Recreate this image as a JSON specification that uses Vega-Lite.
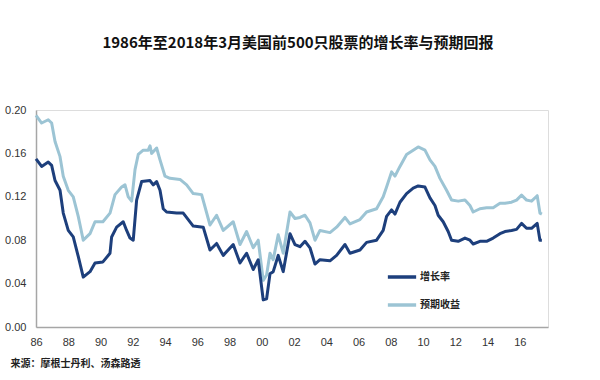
{
  "$schema": "https://vega.github.io/schema/vega-lite/v6.json",
  "width": 512,
  "height": 217,
  "autosize": {"type": "none"},
  "padding": {"left": 36, "top": 110, "right": 52, "bottom": 53},
  "background": "white",
  "title": {
    "text": "1986年至2018年3月美国前500只股票的增长率与预期回报",
    "font": "Noto Sans CJK SC",
    "fontSize": 15,
    "fontWeight": "bold",
    "color": "#111111",
    "anchor": "middle",
    "dx": 6,
    "offset": 53
  },
  "datasets": {
    "g": [
      [1986.0, 0.155], [1986.35, 0.148], [1986.76, 0.152], [1986.97, 0.149], [1987.18, 0.135], [1987.49, 0.126], [1987.69, 0.105], [1988.0, 0.089], [1988.31, 0.083], [1988.62, 0.065], [1988.93, 0.046], [1989.35, 0.051], [1989.66, 0.059], [1990.15, 0.060], [1990.59, 0.068], [1990.69, 0.083], [1991.0, 0.092], [1991.41, 0.097], [1991.62, 0.089], [1991.83, 0.082], [1992.03, 0.080], [1992.24, 0.117], [1992.55, 0.134], [1993.07, 0.135], [1993.27, 0.131], [1993.48, 0.134], [1993.69, 0.126], [1993.89, 0.109], [1994.1, 0.106], [1994.72, 0.105], [1995.13, 0.105], [1995.44, 0.099], [1995.75, 0.093], [1996.37, 0.092], [1996.79, 0.071], [1997.2, 0.077], [1997.61, 0.066], [1998.23, 0.076], [1998.65, 0.059], [1999.06, 0.068], [1999.47, 0.053], [1999.78, 0.062], [2000.09, 0.025], [2000.3, 0.026], [2000.51, 0.049], [2000.71, 0.051], [2001.02, 0.066], [2001.33, 0.051], [2001.75, 0.086], [2002.06, 0.076], [2002.37, 0.074], [2002.68, 0.079], [2002.99, 0.073], [2003.3, 0.058], [2003.61, 0.062], [2004.23, 0.061], [2004.64, 0.066], [2005.16, 0.076], [2005.47, 0.068], [2006.09, 0.071], [2006.5, 0.078], [2007.12, 0.080], [2007.53, 0.089], [2007.74, 0.102], [2008.05, 0.108], [2008.26, 0.104], [2008.57, 0.115], [2008.98, 0.123], [2009.39, 0.128], [2009.7, 0.130], [2010.12, 0.129], [2010.43, 0.119], [2010.74, 0.112], [2010.94, 0.103], [2011.25, 0.097], [2011.56, 0.088], [2011.77, 0.080], [2012.18, 0.079], [2012.6, 0.082], [2012.91, 0.080], [2013.11, 0.0765], [2013.53, 0.079], [2013.94, 0.079], [2014.35, 0.082], [2014.77, 0.086], [2015.08, 0.088], [2015.49, 0.089], [2015.8, 0.090], [2016.11, 0.0955], [2016.42, 0.091], [2016.73, 0.091], [2017.08, 0.0955], [2017.25, 0.080], [2017.37, 0.080]
    ],
    "e": [
      [1986.0, 0.195], [1986.35, 0.188], [1986.76, 0.191], [1986.97, 0.188], [1987.18, 0.171], [1987.49, 0.157], [1987.69, 0.139], [1988.0, 0.126], [1988.31, 0.120], [1988.62, 0.102], [1988.93, 0.080], [1989.35, 0.086], [1989.66, 0.097], [1990.15, 0.097], [1990.59, 0.105], [1990.9, 0.122], [1991.31, 0.129], [1991.52, 0.131], [1991.72, 0.120], [1991.93, 0.116], [1992.14, 0.145], [1992.34, 0.159], [1992.65, 0.163], [1992.96, 0.163], [1993.07, 0.167], [1993.17, 0.160], [1993.48, 0.165], [1993.69, 0.154], [1994.0, 0.139], [1994.31, 0.137], [1994.93, 0.136], [1995.34, 0.131], [1995.75, 0.123], [1996.27, 0.122], [1996.79, 0.094], [1997.2, 0.103], [1997.61, 0.089], [1998.23, 0.097], [1998.65, 0.076], [1999.06, 0.088], [1999.47, 0.073], [1999.78, 0.080], [2000.09, 0.043], [2000.3, 0.048], [2000.51, 0.068], [2000.71, 0.062], [2001.02, 0.085], [2001.33, 0.068], [2001.75, 0.106], [2002.06, 0.100], [2002.37, 0.101], [2002.68, 0.103], [2002.99, 0.096], [2003.3, 0.080], [2003.61, 0.089], [2004.23, 0.087], [2004.64, 0.092], [2005.16, 0.101], [2005.47, 0.095], [2006.09, 0.099], [2006.5, 0.106], [2007.12, 0.109], [2007.53, 0.120], [2007.74, 0.129], [2008.05, 0.143], [2008.26, 0.139], [2008.57, 0.148], [2008.98, 0.159], [2009.39, 0.163], [2009.7, 0.166], [2010.12, 0.163], [2010.43, 0.154], [2010.74, 0.148], [2011.05, 0.137], [2011.46, 0.126], [2011.77, 0.117], [2012.18, 0.116], [2012.6, 0.117], [2012.91, 0.112], [2013.11, 0.106], [2013.53, 0.109], [2013.94, 0.110], [2014.35, 0.110], [2014.77, 0.114], [2015.08, 0.114], [2015.49, 0.115], [2015.8, 0.117], [2016.11, 0.1215], [2016.42, 0.117], [2016.73, 0.116], [2017.08, 0.121], [2017.25, 0.105], [2017.37, 0.104]
    ]
  },
  "encoding": {
    "x": {
      "field": "year", "type": "quantitative",
      "scale": {"domain": [1986, 2017.75], "nice": false, "zero": false},
      "axis": {
        "values": [1986, 1988, 1990, 1992, 1994, 1996, 1998, 2000, 2002, 2004, 2006, 2008, 2010, 2012, 2014, 2016],
        "labelExpr": "substring(toString(datum.value), 2)",
        "labelOverlap": false, "labelFlush": false, "labelSeparation": 0,
        "grid": false, "ticks": false,
        "domainColor": "#a6a6a6", "domainWidth": 1.5,
        "labelFont": "Liberation Sans", "labelFontSize": 11, "labelColor": "#333333",
        "labelPadding": 9,
        "title": "来源：摩根士丹利、汤森路透",
        "titleFont": "Noto Sans CJK SC", "titleFontSize": 10, "titleFontWeight": "bold",
        "titleColor": "#222222",
        "titleAnchor": "start", "titleAlign": "left", "titleBaseline": "middle",
        "titleX": -26, "titleY": 36
      }
    },
    "y": {
      "field": "value", "type": "quantitative",
      "scale": {"domain": [0, 0.2], "nice": false},
      "axis": {
        "values": [0, 0.04, 0.08, 0.12, 0.16, 0.2],
        "format": ".2f",
        "labelOverlap": false, "labelFlush": false,
        "grid": false, "ticks": false,
        "domainColor": "#a6a6a6", "domainWidth": 1.5,
        "labelFont": "Liberation Sans", "labelFontSize": 11, "labelColor": "#333333",
        "labelPadding": 10,
        "title": null
      }
    },
    "color": {
      "field": "series", "type": "nominal",
      "scale": {"domain": ["增长率", "预期收益"], "range": ["#1d3f7c", "#9cc4d4"]},
      "legend": {
        "orient": "none", "legendX": 350, "legendY": 151,
        "title": null,
        "symbolType": "stroke", "symbolSize": 800, "symbolStrokeWidth": 3.5,
        "labelFont": "Noto Sans CJK SC", "labelFontSize": 10, "labelFontWeight": "bold",
        "labelColor": "#222222", "labelOffset": 2,
        "rowPadding": 5
      }
    }
  },
  "layer": [
    {
      "data": {"name": "e"},
      "transform": [
        {"calculate": "datum[0]", "as": "year"},
        {"calculate": "datum[1]", "as": "value"},
        {"calculate": "'预期收益'", "as": "series"}
      ],
      "mark": {"type": "line", "strokeWidth": 3, "strokeJoin": "round"}
    },
    {
      "data": {"name": "g"},
      "transform": [
        {"calculate": "datum[0]", "as": "year"},
        {"calculate": "datum[1]", "as": "value"},
        {"calculate": "'增长率'", "as": "series"}
      ],
      "mark": {"type": "line", "strokeWidth": 3, "strokeJoin": "round"}
    }
  ]
}
